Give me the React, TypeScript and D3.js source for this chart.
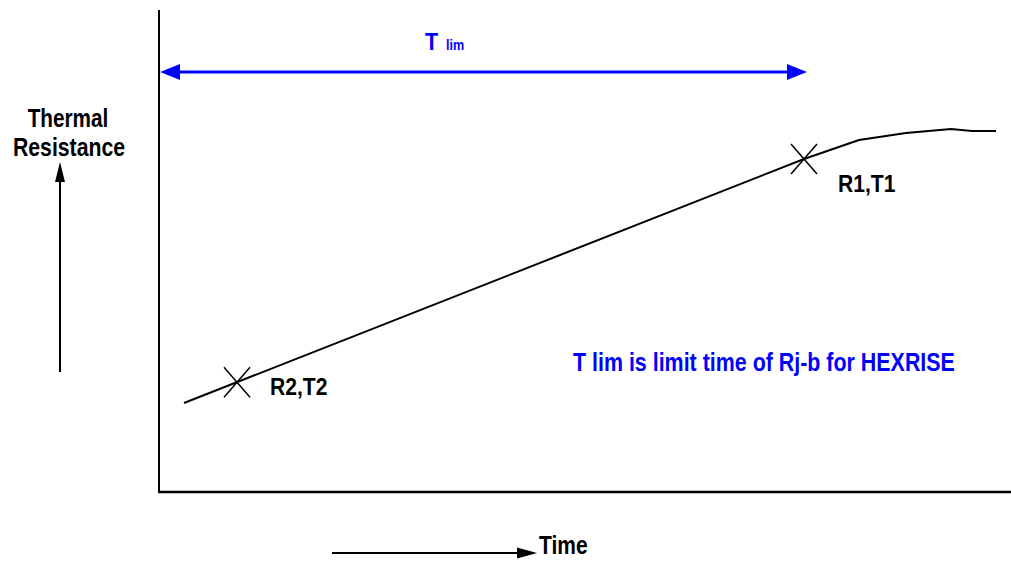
import React from "react";
import * as d3 from "d3";

// Thermal resistance vs. time (schematic)
const timeValues = [25, 645, 700, 747, 792, 813, 837];
const resistanceValues = [89, 333, 352, 359, 363, 361, 361];

const markerLabels = ["R2,T2", "R1,T1"];
const markerTimes = [78, 645];

const yAxisTitle = ["Thermal", "Resistance"];
const xAxisTitle = "Time";
const spanLabelMain = "T";
const spanLabelSub = "lim";
const noteText = "T lim is limit time of Rj-b for HEXRISE";

const W = 1011;
const H = 561;
const FONT = "'Liberation Sans', Arial, Helvetica, sans-serif";
const BLUE = "#0000ff";

// bold, horizontally condensed label
function Label(props: {
  x: number;
  y: number;
  size: number;
  sx?: number;
  fill?: string;
  anchor?: string;
  children: React.ReactNode;
}) {
  const { x, y, size, sx = 0.85, fill = "#000", anchor = "start", children } = props;
  return (
    <text
      transform={`translate(${x},${y}) scale(${sx},1)`}
      fontSize={size}
      fontWeight="bold"
      fill={fill}
      textAnchor={anchor}
    >
      {children}
    </text>
  );
}

export default function App() {
  const x = d3.scaleLinear().domain([0, 850]).range([159, 1009]);
  const y = d3.scaleLinear().domain([0, 482]).range([492, 10]);

  const points: [number, number][] = timeValues.map((t, i) => [t, resistanceValues[i]]);
  const line = d3
    .line<[number, number]>()
    .x((d) => x(d[0]))
    .y((d) => y(d[1]))
    .curve(d3.curveLinear);

  // resistance on the straight segment for the marked times
  const straight = d3
    .scaleLinear()
    .domain([timeValues[0], timeValues[1]])
    .range([resistanceValues[0], resistanceValues[1]]);
  const markers = markerTimes.map((t, i) => ({ t, r: straight(t), label: markerLabels[i] }));

  const x0 = x(0);
  const y0 = y(0);

  // T lim span: from the axis to the R1,T1 time
  const spanY = 72;
  const spanL = x0 + 1;
  const spanR = x(markerTimes[1]) + 3;
  const ah = 20;
  const aw = 8;

  return (
    <svg
      width={W}
      height={H}
      style={{ position: "absolute", left: 0, top: 0, background: "#fff" }}
      fontFamily={FONT}
    >
      <rect width={W} height={H} fill="#fff" />
      {/* axes */}
      <line x1={x0} y1={y(482)} x2={x0} y2={y0 + 1} stroke="#000" strokeWidth={2} />
      <line x1={x0 - 1} y1={y0} x2={W} y2={y0} stroke="#000" strokeWidth={2.5} />

      {/* curve */}
      <path d={line(points) || ""} fill="none" stroke="#000" strokeWidth={2} />

      {/* markers */}
      {markers.map((m, i) => {
        const cx = x(m.t);
        const cy = y(m.r);
        return (
          <g key={i}>
            <line x1={cx - 13} y1={cy - 15} x2={cx + 13} y2={cy + 15} stroke="#000" strokeWidth={1.5} />
            <line x1={cx - 13} y1={cy + 15} x2={cx + 13} y2={cy - 15} stroke="#000" strokeWidth={1.5} />
          </g>
        );
      })}
      <Label x={270} y={395} size={24} sx={0.88}>
        {markers[0].label}
      </Label>
      <Label x={838} y={192} size={24} sx={0.88}>
        {markers[1].label}
      </Label>

      {/* T lim span arrow */}
      <line x1={spanL + ah - 2} y1={spanY} x2={spanR - ah + 2} y2={spanY} stroke={BLUE} strokeWidth={3} />
      <path d={`M${spanL},${spanY} L${spanL + ah},${spanY - aw} L${spanL + ah},${spanY + aw} Z`} fill={BLUE} />
      <path d={`M${spanR},${spanY} L${spanR - ah},${spanY - aw} L${spanR - ah},${spanY + aw} Z`} fill={BLUE} />
      <Label x={425} y={50} size={24} sx={0.9} fill={BLUE}>
        {spanLabelMain}
      </Label>
      <Label x={446} y={50} size={14} sx={0.9} fill={BLUE}>
        {spanLabelSub}
      </Label>

      {/* note */}
      <Label x={573} y={371} size={25} sx={0.857} fill={BLUE}>
        {noteText}
      </Label>

      {/* y-axis title with arrow */}
      <Label x={68} y={127} size={25} sx={0.83} anchor="middle">
        {yAxisTitle[0]}
      </Label>
      <Label x={69} y={156} size={25} sx={0.85} anchor="middle">
        {yAxisTitle[1]}
      </Label>
      <line x1={60} y1={180} x2={60} y2={372} stroke="#000" strokeWidth={2} />
      <path d="M60,162 L55,182 L65,182 Z" fill="#000" />

      {/* x-axis title with arrow */}
      <line x1={332} y1={553} x2={520} y2={553} stroke="#000" strokeWidth={2} />
      <path d="M537,553 L517,547.5 L517,558.5 Z" fill="#000" />
      <Label x={539} y={554} size={25} sx={0.84}>
        {xAxisTitle}
      </Label>
    </svg>
  );
}
